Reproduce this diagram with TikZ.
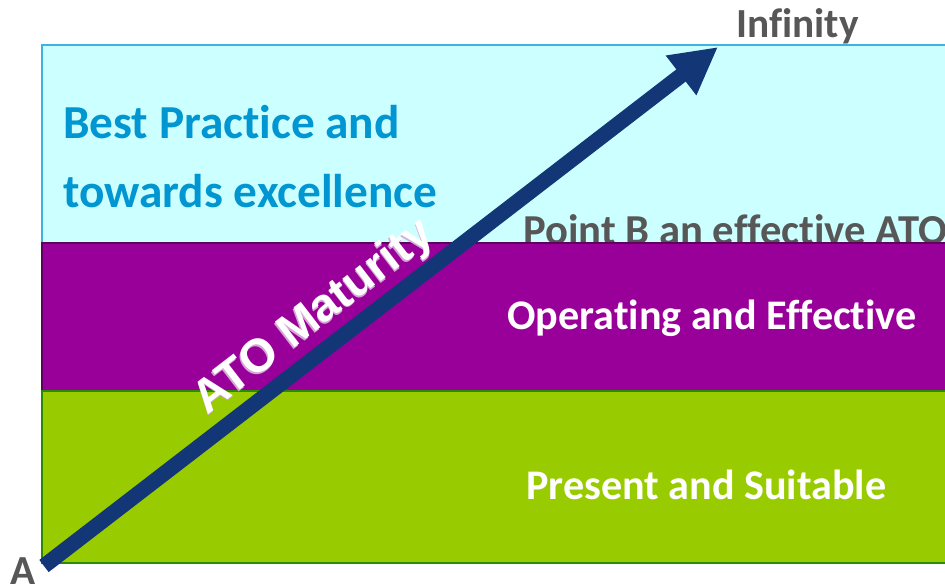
\documentclass[tikz,border=0pt]{standalone}
\usepackage{fontspec}
\setmainfont{Carlito}[Ligatures={NoCommon,NoRequired,NoContextual}]
\newfontfamily\arialfont{Liberation Sans}
\usetikzlibrary{arrows.meta,positioning}
\definecolor{bandcyan}{HTML}{CCFFFF}
\definecolor{bandcyanline}{HTML}{3FB2E0}
\definecolor{bandpurple}{HTML}{990099}
\definecolor{bandpurpleline}{HTML}{5E005E}
\definecolor{bandgreen}{HTML}{99CC00}
\definecolor{bandgreenline}{HTML}{2B8A00}
\definecolor{arrownavy}{HTML}{123676}
\definecolor{titleblue}{HTML}{0096D2}
\definecolor{notegray}{HTML}{575757}
\definecolor{glowpink}{HTML}{D6A6D6}
\tikzset{
    band/.style={line width=1.2pt},
    title/.style={anchor=base west, inner sep=0pt, text=titleblue, font=\fontsize{35.5}{42}\selectfont\bfseries},
    note/.style={anchor=base west, inner sep=0pt, text=notegray, font=\fontsize{31}{36}\selectfont\bfseries},
    level/.style={anchor=base west, inner sep=0pt, text=white, font=\fontsize{31.6}{36}\selectfont\bfseries},
    maturity/.style={arrownavy, line width=11.5pt, -{Triangle[length=35pt,width=35pt]}},
    matlabel/.style={inner sep=0pt, font=\arialfont\fontsize{35}{40}\selectfont\bfseries}
}
\begin{document}
\begin{tikzpicture}[x=0.75pt,y=-0.75pt]
    \useasboundingbox (0,0) rectangle (945,585);
    \clip (0,0) rectangle (945,585);
    % the three bands, top to bottom
    \draw[band, fill=bandcyan, draw=bandcyanline] (42,45) rectangle (960,243);
    \node[note, font=\fontsize{32}{36}\selectfont\bfseries] (pointb) at (523,244) {Point B an effective ATO};
    \draw[band, fill=bandpurple, draw=bandpurpleline] (42,243) rectangle (960,391);
    \draw[band, fill=bandgreen, draw=bandgreenline] (42,391) rectangle (960,563);
    % band texts
    \node[title] (best) at (63,138) {Best Practice and};
    \node[title] (towards) at (63,207) {towards excellence};
    \node[level] (operating) at (507,329) {Operating and Effective};
    \node[level] (present) at (526,499) {Present and Suitable};
    % end points
    \node[note] (infinity) at (736,38) {Infinity};
    \node[note] (pointa) at (10,584) {A};
    \coordinate (start) at (44,566);
    \coordinate (tip) at (718,47);
    % maturity arrow with its label
    \draw[maturity] (start) --
        node[pos=0.43, sloped, above=2pt, xshift=-1pt, yshift=-1pt, matlabel, text=glowpink] (glow) {ATO Maturity}
        node[pos=0.43, sloped, above=2pt, matlabel, text=white] (maturitylabel) {ATO Maturity}
        (tip);
\end{tikzpicture}
\end{document}
